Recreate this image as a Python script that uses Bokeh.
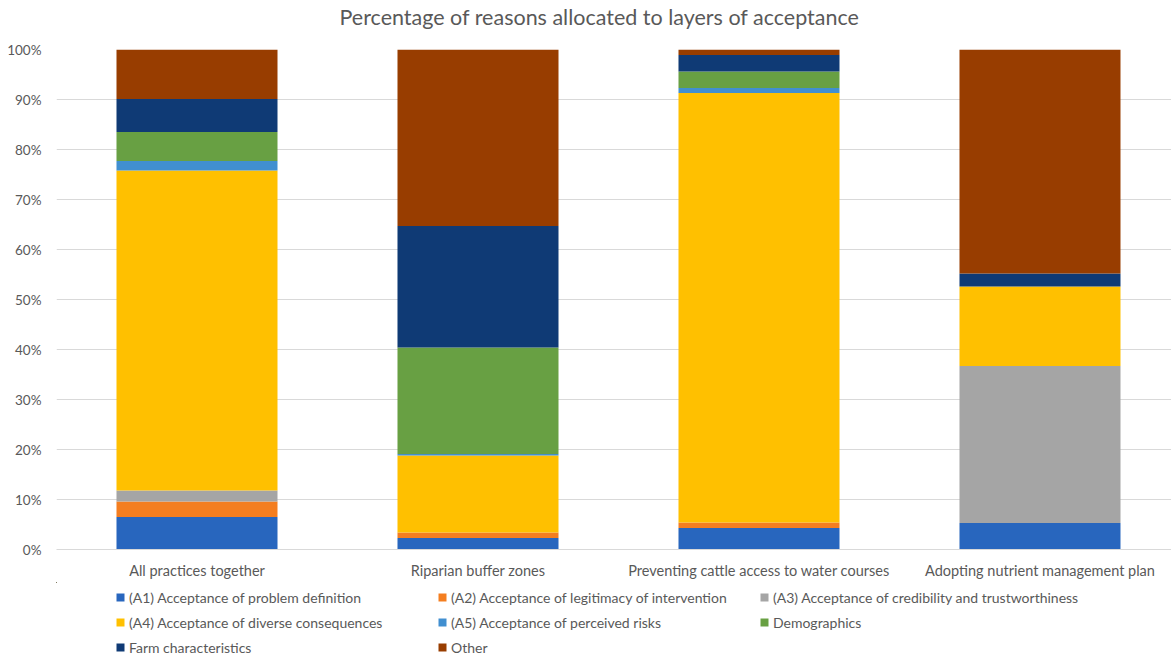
from bokeh.plotting import figure
from bokeh.layouts import column
from bokeh.models import (Range1d, Legend, LegendItem, ColumnDataSource, FixedTicker,
                          PrintfTickFormatter, Title)
from bokeh.embed import file_html
from bokeh.resources import INLINE

categories = ["All practices together", "Riparian buffer zones",
              "Preventing cattle access to water courses", "Adopting nutrient management plan"]
series_names = ["(A1) Acceptance of problem definition",
                "(A2) Acceptance of legitimacy of intervention",
                "(A3) Acceptance of credibility and trustworthiness",
                "(A4) Acceptance of diverse consequences",
                "(A5) Acceptance of perceived risks",
                "Demographics", "Farm characteristics", "Other"]
a1 = [6.5, 2.3, 4.3, 5.3]
a2 = [3.1, 1.1, 1.1, 0.0]
a3 = [2.2, 0.0, 0.0, 31.4]
a4 = [64.0, 15.4, 85.9, 15.9]
a5 = [1.9, 0.3, 1.0, 0.0]
demographics = [5.8, 21.3, 3.3, 0.0]
farm = [6.6, 24.3, 3.3, 2.6]
other = [9.9, 35.3, 1.1, 44.8]
y_ticks = [0, 10, 20, 30, 40, 50, 60, 70, 80, 90, 100]

colors = ["#2866BE", "#F47E20", "#A5A5A5", "#FFC000", "#418FD0", "#68A043", "#0F3A75", "#983D00"]
keys = ["a1", "a2", "a3", "a4", "a5", "demo", "farm", "other"]


def make_source():
    return ColumnDataSource(dict(x=list(range(len(categories))), a1=a1, a2=a2, a3=a3, a4=a4,
                                 a5=a5, demo=demographics, farm=farm, other=other))


source = make_source()

FONT = "Lato"
GREY = "#595959"

# title strip
tf = figure(width=1171, height=36, output_backend="svg", toolbar_location=None,
            x_range=Range1d(0, 1), y_range=Range1d(0, 1),
            x_axis_location=None, y_axis_location=None,
            min_border_left=0, min_border_right=0, min_border_top=4, min_border_bottom=0)
tf.grid.visible = False
tf.outline_line_color = None
tf.title = Title(text="Percentage of reasons allocated to layers of acceptance", align="left",
                 text_font=FONT, text_font_size="21.5px", text_color=GREY,
                 text_font_style="normal", offset=283, standoff=2)

p = figure(width=1171, height=546, output_backend="svg", toolbar_location=None,
           x_range=Range1d(-0.5, 3.468), y_range=Range1d(0, 100),
           min_border_left=56, min_border_right=0, min_border_top=13, min_border_bottom=33)
p.outline_line_color = None
p.background_fill_color = "white"
p.border_fill_color = "white"

renderers = p.vbar_stack(keys, x="x", width=0.573, color=colors, source=source, line_color=None)

p.xgrid.visible = False
p.ygrid.grid_line_color = "#D9D9D9"
p.ygrid.ticker = FixedTicker(ticks=y_ticks)

p.xaxis.ticker = FixedTicker(ticks=list(range(len(categories))))
p.xaxis.major_label_overrides = {i: c for i, c in enumerate(categories)}
p.xaxis.axis_line_color = "#D9D9D9"
p.xaxis.major_tick_line_color = None
p.xaxis.minor_tick_line_color = None
p.xaxis.major_label_standoff = 6
p.xaxis.major_label_text_font = FONT
p.xaxis.major_label_text_font_size = "14.5px"
p.xaxis.major_label_text_color = GREY

p.yaxis.ticker = FixedTicker(ticks=y_ticks)
p.yaxis.formatter = PrintfTickFormatter(format="%d%%")
p.yaxis.axis_line_color = None
p.yaxis.major_tick_line_color = None
p.yaxis.minor_tick_line_color = None
p.yaxis.major_label_standoff = 9
p.yaxis.major_label_text_font = FONT
p.yaxis.major_label_text_font_size = "13.5px"
p.yaxis.major_label_text_color = GREY

# legend strip: a copy of the stacked bars kept outside its visible range, used only for legend glyphs
lf = figure(width=1171, height=75, output_backend="svg", toolbar_location=None,
            x_range=Range1d(20, 21), y_range=Range1d(-10, -9),
            x_axis_location=None, y_axis_location=None,
            min_border_left=0, min_border_right=0, min_border_top=0, min_border_bottom=0)
lf.grid.visible = False
lf.outline_line_color = None
lrenderers = lf.vbar_stack(keys, x="x", width=0.5, color=colors, source=make_source(),
                           line_color=None)

items = [LegendItem(label=n, renderers=[r]) for n, r in zip(series_names, lrenderers)]
legend = Legend(items=items, orientation="horizontal", ncols=3, location=(59, 0),
                glyph_width=10, glyph_height=10, label_standoff=4, spacing=5,
                label_height=20, label_width=303, margin=0, padding=0,
                label_text_font=FONT, label_text_font_size="14px", label_text_color=GREY,
                border_line_color=None, background_fill_alpha=0)
lf.add_layout(legend, "center")

layout = column(tf, p, lf, spacing=0)
open("out.html", "w").write(file_html(layout, INLINE))
